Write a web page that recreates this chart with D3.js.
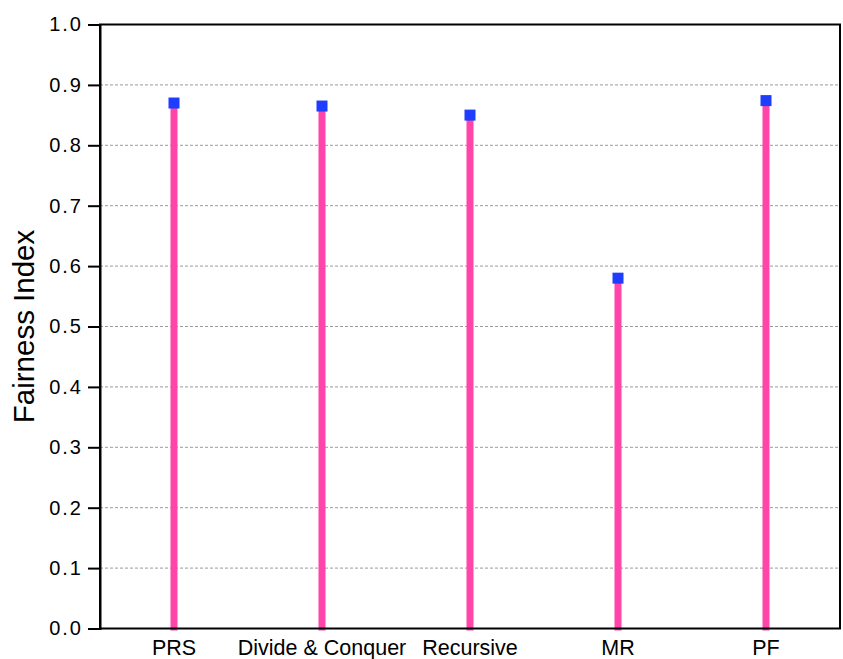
<!DOCTYPE html>
<html><head><meta charset="utf-8">
<script src="https://cdn.jsdelivr.net/npm/d3@7"></script>
<style>body{margin:0;background:#fff}svg{display:block;font-family:"Liberation Sans",Arial,sans-serif}</style>
</head><body><svg id="c" width="843" height="659"></svg>
<script>
const categories = ["PRS","Divide & Conquer","Recursive","MR","PF"];
const values = [0.870, 0.865, 0.850, 0.580, 0.874];
const yTicks = [0,0.1,0.2,0.3,0.4,0.5,0.6,0.7,0.8,0.9,1.0];
const yLabel = "Fairness Index";

const svg = d3.select("#c");
const L=100, R=840, T=24.5, B=628.5;
const x = d3.scaleBand().domain(categories).range([L,R]).padding(0);
const y = d3.scaleLinear().domain([0,1]).range([B,T]);

// grid
svg.append("g").selectAll("line").data(yTicks.filter(d=>d>0&&d<1)).join("line")
  .attr("x1",L).attr("x2",R).attr("y1",d=>y(d)).attr("y2",d=>y(d))
  .attr("stroke","#9a9a9a").attr("stroke-width",1).attr("stroke-dasharray","3,2");

// stems
svg.append("g").selectAll("line").data(categories).join("line")
  .attr("x1",d=>x(d)+x.bandwidth()/2).attr("x2",d=>x(d)+x.bandwidth()/2)
  .attr("y1",B+2).attr("y2",(d,i)=>y(values[i]))
  .attr("stroke","#ff44aa").attr("stroke-width",7);

// frame
svg.append("rect").attr("x",L).attr("y",T).attr("width",R-L).attr("height",B-T)
  .attr("fill","none").attr("stroke","#000").attr("stroke-width",2);

// markers
svg.append("g").selectAll("rect").data(categories).join("rect")
  .attr("x",d=>x(d)+x.bandwidth()/2-5.5).attr("y",(d,i)=>y(values[i])-5.5)
  .attr("width",11).attr("height",11).attr("fill","#1f3dff");

// y axis
const ya = svg.append("g").attr("transform",`translate(${L},0)`)
  .call(d3.axisLeft(y).tickValues(yTicks).tickFormat(d3.format(".1f")).tickSize(12).tickPadding(5));
ya.select(".domain").attr("stroke-width",2);
ya.selectAll(".tick line").attr("stroke-width",2);
ya.selectAll("text").attr("font-size",20).attr("letter-spacing","2px").attr("fill","#000")
  .attr("font-family","Liberation Sans, Arial, sans-serif");

// x labels
const xa = svg.append("g").attr("transform",`translate(0,${B})`)
  .call(d3.axisBottom(x).tickSize(0).tickPadding(11));
xa.select(".domain").remove();
xa.selectAll("text").attr("font-size",21.5).attr("fill","#000").attr("font-family","Liberation Sans, Arial, sans-serif");

svg.append("text").attr("transform","translate(34,326.5) rotate(-90)")
  .attr("text-anchor","middle").attr("font-size",29.5).text(yLabel);
</script></body></html>
